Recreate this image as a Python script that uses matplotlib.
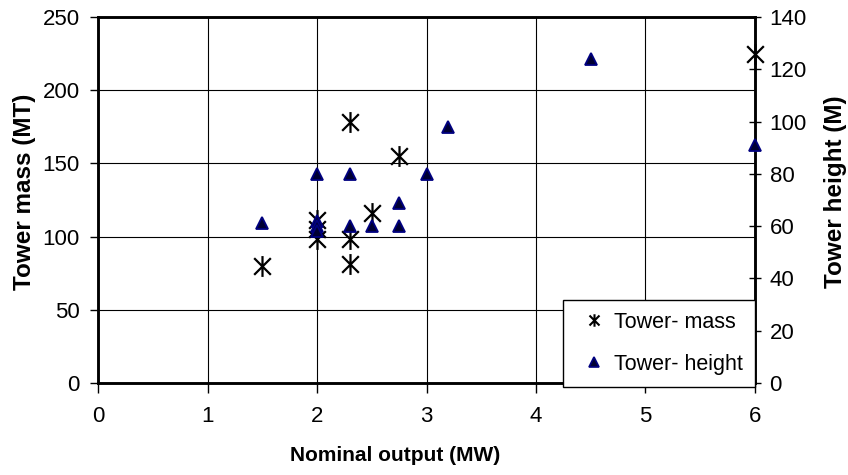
import matplotlib
matplotlib.use("Agg")
import matplotlib.pyplot as plt
from matplotlib.path import Path
from matplotlib.lines import Line2D

plt.rcParams['font.family'] = ['Liberation Sans', 'DejaVu Sans']

# tower mass (left axis, MT) vs nominal output (MW)
mass_mw = [1.5, 2.0, 2.0, 2.0, 2.3, 2.3, 2.3, 2.5, 2.75, 6.0]
mass_mt = [80, 111, 105, 98, 98, 81, 178, 116, 155, 225]

# tower height (right axis, M) vs nominal output (MW)
height_mw = [1.5, 2.0, 2.0, 2.0, 2.0, 2.3, 2.3, 2.5, 2.75, 2.75, 3.0, 3.2, 4.5, 6.0]
height_m = [61, 80, 62, 60, 58, 80, 60, 60, 69, 60, 80, 98, 124, 91]

# asterisk marker: an X with a vertical bar
star = Path([(-1, -1), (1, 1), (-1, 1), (1, -1), (0, -1.25), (0, 1.25)],
            [Path.MOVETO, Path.LINETO, Path.MOVETO, Path.LINETO, Path.MOVETO, Path.LINETO])

tri_face = '#000033'
tri_edge = '#000080'

fig = plt.figure(figsize=(8.48, 4.75), dpi=100)
ax = fig.add_axes([0.1156, 0.194, 0.7747, 0.770])
ax2 = ax.twinx()

ax.plot(mass_mw, mass_mt, linestyle='none', marker=star, ms=15, mew=1.6,
        color='black', clip_on=False, zorder=5)
ax2.plot(height_mw, height_m, linestyle='none', marker='^', ms=8, mew=1.3,
         markerfacecolor=tri_face, markeredgecolor=tri_edge, clip_on=False, zorder=5)

ax.set_xlim(0, 6)
ax.set_ylim(0, 250)
ax2.set_ylim(0, 140)
ax.set_xticks(range(0, 7))
ax.set_yticks(range(0, 251, 50))
ax2.set_yticks(range(0, 141, 20))

ax.grid(True, color='black', linewidth=0.8)
ax.set_axisbelow(True)

for a in (ax, ax2):
    for s in a.spines.values():
        s.set_linewidth(1.8)
ax.tick_params(axis='y', labelsize=16, length=6, width=1, direction='out', pad=7)
ax.tick_params(axis='x', labelsize=16, length=7, width=1, direction='out', pad=10)
ax2.tick_params(axis='y', labelsize=16, length=9, width=1, direction='inout', pad=6)

ax.set_xlabel('Nominal output (MW)', fontsize=15, fontweight='bold', va='center')
ax.xaxis.set_label_coords(0.452, -0.199)
ax.set_ylabel('Tower mass (MT)', fontsize=17.5, fontweight='bold', va='center')
ax.yaxis.set_label_coords(-0.1126, 0.522)
ax2.set_ylabel('Tower height (M)', fontsize=17.5, fontweight='bold', va='center')
ax2.yaxis.set_label_coords(1.123, 0.522)

handles = [
    Line2D([], [], linestyle='none', marker=star, ms=9, mew=1.5, color='black'),
    Line2D([], [], linestyle='none', marker='^', ms=7, mew=1.2,
           markerfacecolor=tri_face, markeredgecolor=tri_edge),
]
leg = ax2.legend(handles, ['Tower- mass', 'Tower- height'], loc='lower right',
                 bbox_to_anchor=(1.0, -0.011), borderaxespad=0,
                 fontsize=15.5, frameon=True, fancybox=False, edgecolor='black',
                 borderpad=0.55, labelspacing=0.98, handletextpad=0.05,
                 handlelength=1.8, framealpha=1)
leg.get_frame().set_linewidth(1.0)
leg.set_zorder(10)

fig.savefig('out.png', dpi=100)
